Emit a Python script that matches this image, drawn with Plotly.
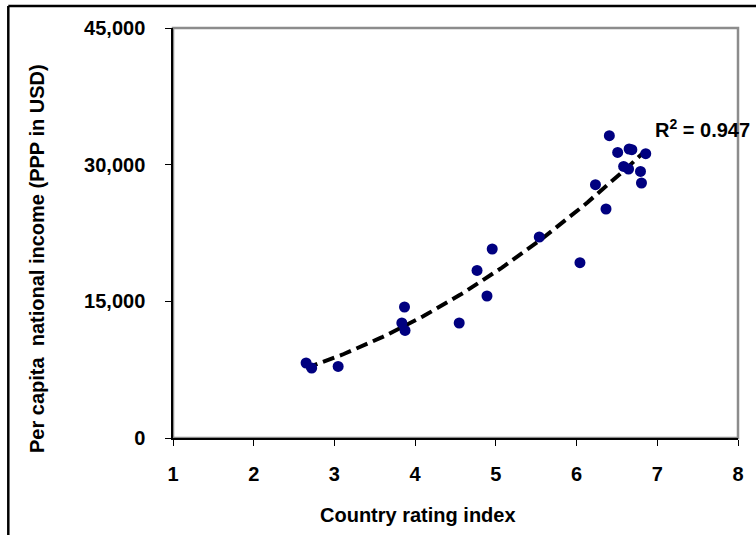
import numpy as np
import plotly.graph_objects as go

# Country rating index (x) and per capita national income, PPP USD (y)
rating = [2.649, 2.718, 3.046, 3.868, 3.835, 3.875, 4.546, 4.890, 4.767, 4.955,
          5.538, 6.042, 6.406, 6.509, 6.651, 6.685, 6.857, 6.583, 6.644, 6.792,
          6.804, 6.234, 6.365]
income = [8232, 7683, 7859, 14378, 12622, 11810, 12622, 15585, 18395, 20744,
          22061, 19240, 33180, 31346, 31720, 31643, 31204, 29810, 29524, 29261,
          27988, 27801, 25134]

x_ticks = [1, 2, 3, 4, 5, 6, 7, 8]
y_ticks = [0, 15000, 30000, 45000]
r2_label = "R<sup>2</sup> = 0.947"

# quadratic trendline fitted to the data
coef = np.polyfit(rating, income, 2)
tx = np.linspace(min(rating), max(rating), 100)
ty = np.polyval(coef, tx)

FONT = "Liberation Sans, Arial, sans-serif"
FS = 20
fig = go.Figure()
fig.add_trace(go.Scatter(x=tx, y=ty, mode="lines",
                         line=dict(color="black", width=4, dash="12px,6px"),
                         hoverinfo="skip", showlegend=False))
fig.add_trace(go.Scatter(x=rating, y=income, mode="markers",
                         marker=dict(color="#000080", size=11),
                         showlegend=False))

fig.update_layout(
    width=756, height=535,
    margin=dict(l=173, r=13, t=28, b=97, pad=0),
    paper_bgcolor="white", plot_bgcolor="white",
    font=dict(family=FONT, size=FS, color="black"),
    showlegend=False,
)
fig.update_xaxes(range=[1, 8], tickvals=x_ticks, ticktext=[str(v) for v in x_ticks],
                 showgrid=False, zeroline=False, showline=True, linecolor="black",
                 linewidth=2, ticks="outside", ticklen=6, tickcolor="black",
                 tickfont=dict(family=FONT, size=FS, color="black", weight="bold"),
                 ticklabelstandoff=11)
fig.update_yaxes(range=[0, 45000], tickvals=y_ticks, tickformat=",d",
                 showgrid=False, zeroline=False, showline=True, linecolor="black",
                 linewidth=1.5, ticks="outside", ticklen=6, tickcolor="black",
                 tickfont=dict(family=FONT, size=FS, color="black", weight="bold"),
                 ticklabelstandoff=16)

# plot-area frame (gray) and outer chart border (black)
fig.add_shape(type="rect", xref="paper", yref="paper", x0=0, x1=1, y0=0, y1=1,
              line=dict(color="#8c8c8c", width=2.5), layer="below")
fig.add_shape(type="line", xref="paper", yref="paper", x0=-0.2915, x1=1.2,
              y0=1.0537, y1=1.0537, line=dict(color="black", width=2.5))
fig.add_shape(type="line", xref="paper", yref="paper", x0=-0.2915, x1=-0.2915,
              y0=1.0537, y1=-0.5, line=dict(color="black", width=2.5))

fig.add_annotation(text="<b>Per capita  national income (PPP in USD)</b>",
                   xref="paper", yref="paper", x=-0.2404, y=0.437,
                   textangle=-90, showarrow=False, xanchor="center", yanchor="middle",
                   font=dict(family=FONT, size=FS, color="black"))
fig.add_annotation(text="<b>Country rating index</b>",
                   xref="paper", yref="paper", x=0.434, y=-0.189,
                   showarrow=False, xanchor="center", yanchor="middle",
                   font=dict(family=FONT, size=FS, color="black"))
fig.add_annotation(text="<b>" + r2_label + "</b>",
                   xref="paper", yref="paper", x=0.849, y=0.754,
                   showarrow=False, xanchor="left", yanchor="middle",
                   font=dict(family=FONT, size=FS, color="black"))

fig.write_html("out.html", config={"displayModeBar": False},
               post_script="document.body.style.margin='0';")
